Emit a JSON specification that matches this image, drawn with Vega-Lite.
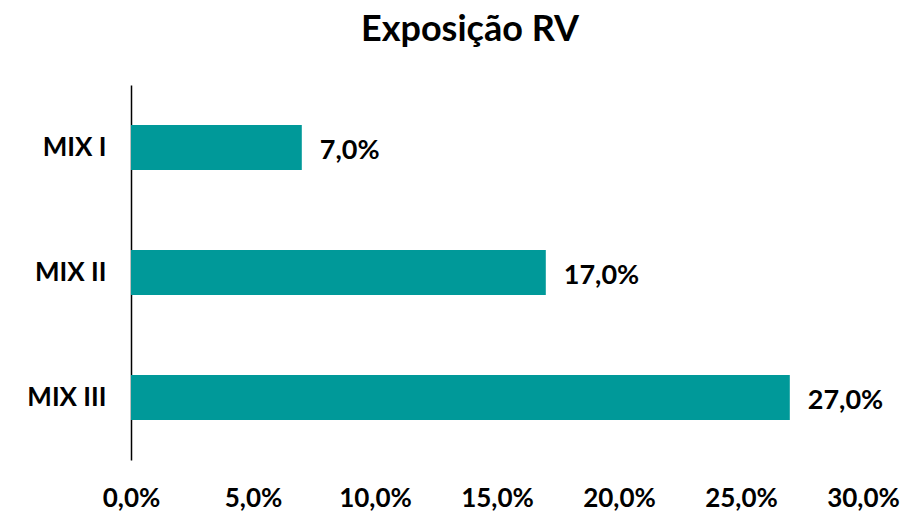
{
  "$schema": "https://vega.github.io/schema/vega-lite/v6.json",
  "autosize": "none",
  "width": 732,
  "height": 375,
  "padding": {"left": 131, "top": 85, "right": 56, "bottom": 56},
  "background": "white",
  "title": {"text": "Exposição RV", "fontSize": 36, "font": "Lato", "fontWeight": "bold", "color": "#000000", "anchor": "middle", "dx": -27, "offset": 36},
  "data": {"values": [
    {"fundo": "MIX I", "valor": 0.07},
    {"fundo": "MIX II", "valor": 0.17},
    {"fundo": "MIX III", "valor": 0.27}
  ]},
  "encoding": {
    "y": {"field": "fundo", "type": "nominal", "sort": null,
      "scale": {"paddingInner": 0.64, "paddingOuter": 0.32},
      "axis": {"title": null, "ticks": false, "domainColor": "#000000", "domainWidth": 1.5, "labelFont": "Lato", "labelFontWeight": "bold", "labelFontSize": 26, "labelColor": "#000000", "labelPadding": 25}},
    "x": {"field": "valor", "type": "quantitative",
      "scale": {"domain": [0, 0.3], "nice": false},
      "axis": {"title": null, "format": ".1%", "values": [0, 0.05, 0.1, 0.15, 0.2, 0.25, 0.3], "grid": false, "domain": false, "ticks": false, "labelFlush": false, "labelFont": "Lato", "labelFontWeight": "bold", "labelFontSize": 26, "labelColor": "#000000", "labelPadding": 25}}
  },
  "layer": [
    {"mark": {"type": "bar", "color": "#009999"}},
    {"mark": {"type": "text", "align": "left", "dx": 18, "dy": 3, "font": "Lato", "fontWeight": "bold", "fontSize": 27, "color": "#000000"},
     "encoding": {"text": {"field": "valor", "type": "quantitative", "format": ".1%"}}}
  ],
  "config": {
    "view": {"stroke": null},
    "locale": {"number": {"decimal": ",", "thousands": ".", "grouping": [3], "currency": ["R$", ""]}}
  }
}
